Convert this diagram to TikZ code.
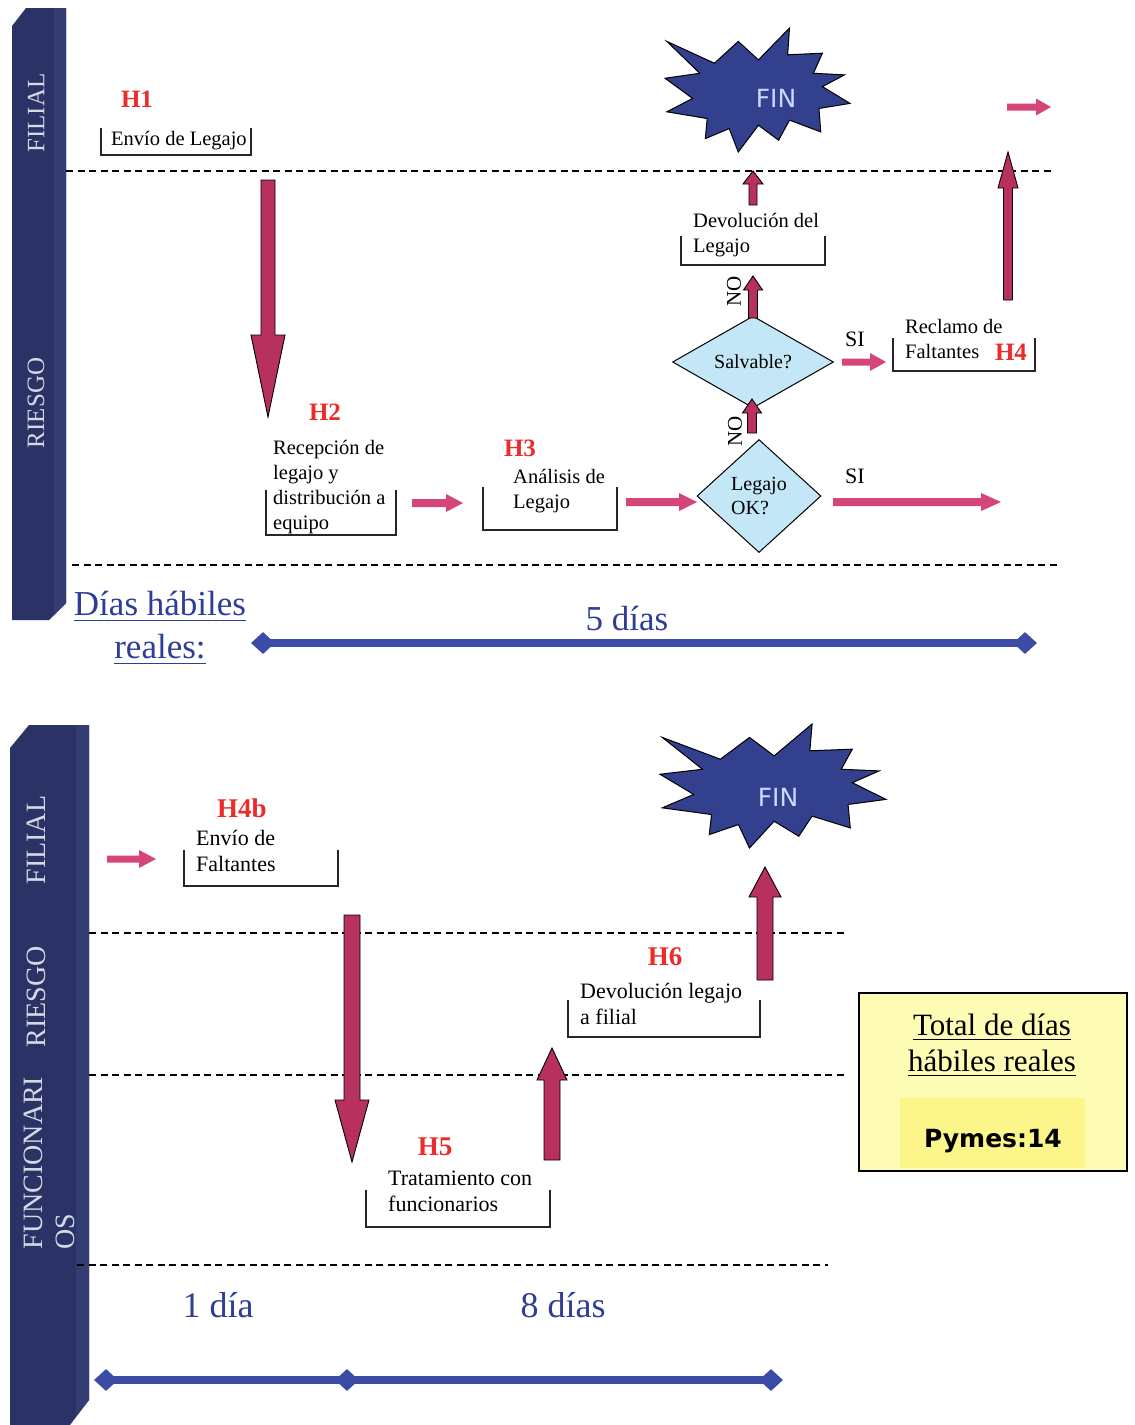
\documentclass[tikz,border=0pt]{standalone}
\usepackage{fontspec}
\setmainfont{Liberation Serif}
\newfontfamily\dejavu{DejaVu Sans}
\newcommand\uln[1]{\leavevmode\setbox0=\hbox{#1}\rlap{\rule[-0.16em]{\wd0}{0.05em}}\box0}
\usetikzlibrary{calc,shapes.geometric}
\definecolor{navy}{HTML}{2B3266}
\definecolor{navyside}{HTML}{343D73}
\definecolor{lanetxt}{HTML}{D5D9E6}
\definecolor{hred}{HTML}{EC2B2B}
\definecolor{crim}{HTML}{B8305E}
\definecolor{pinkc}{HTML}{D6457A}
\definecolor{dblue}{HTML}{2E3D96}
\definecolor{tlblue}{HTML}{3B4CA6}
\definecolor{dia}{HTML}{C3E7F7}
\definecolor{finblue}{HTML}{33408E}
\definecolor{fintxtc}{HTML}{C9D9FF}
\definecolor{ybox}{HTML}{FDFBB4}
\definecolor{yin}{HTML}{FBF58A}
% block arrow: [style]{from}{to}{shaft half width}{head half width}{head length}
\newcommand\blk[6][]{%
  \path[#1] let \p1=(#2), \p2=(#3), \n1={atan2(\y2-\y1,\x2-\x1)},
     \n2={veclen(\x2-\x1,\y2-\y1)-#6} in
   ($(\p1)+(\n1+90:#4pt)$) -- ($(\p1)+(\n1:\n2)+(\n1+90:#4pt)$) --
   ($(\p1)+(\n1:\n2)+(\n1+90:#5pt)$) -- (\p2) --
   ($(\p1)+(\n1:\n2)+(\n1-90:#5pt)$) -- ($(\p1)+(\n1:\n2)+(\n1-90:#4pt)$) --
   ($(\p1)+(\n1-90:#4pt)$) -- cycle;}
% starburst: {x0}{y0}{w}{h}
\newcommand\finpoly[4]{%
  \begin{scope}[shift={(#1,#2)}, x=#3pt, y=-#4pt]
  \draw[fin] (0.01,0.108) -- (0.267,0.284) -- (0.396,0.108) -- (0.505,0.257) --
   (0.673,0) -- (0.663,0.216) -- (0.851,0.203) -- (0.802,0.365) -- (0.970,0.378) --
   (0.851,0.473) -- (1,0.608) -- (0.832,0.649) -- (0.842,0.838) -- (0.673,0.743) --
   (0.614,0.905) -- (0.505,0.784) -- (0.396,1) -- (0.347,0.811) -- (0.218,0.892) --
   (0.228,0.730) -- (0.01,0.676) -- (0.149,0.568) -- (0,0.405) -- (0.188,0.365) -- cycle;
  \end{scope}}
\begin{document}
\begin{tikzpicture}[x=1pt,y=-1pt,
  every node/.style={inner sep=0pt},
  lanelab/.style={text=lanetxt, rotate=90, font=\fontsize{25}{25}\selectfont},
  lanelabB/.style={text=lanetxt, rotate=90, font=\fontsize{28}{32}\selectfont},
  txtA/.style={anchor=north west, align=left, font=\fontsize{20.5}{25}\selectfont},
  txtB/.style={anchor=north west, align=left, font=\fontsize{22}{26}\selectfont},
  hA/.style={text=hred, font=\bfseries\fontsize{25}{25}\selectfont},
  hB/.style={text=hred, font=\bfseries\fontsize{27}{27}\selectfont},
  brk/.style={draw=black!85, line width=1.1pt},
  dline/.style={draw=black, line width=1.1pt, dash pattern=on 7pt off 4.5pt},
  dec/.style={diamond, draw=black, line width=1pt, fill=dia, font=\fontsize{20}{24}\selectfont, align=left},
  crimar/.style={fill=crim, draw=black, line width=0.9pt},
  pinkar/.style={fill=pinkc},
  tl/.style={draw=tlblue, line width=8pt},
  tdia/.style={diamond, fill=tlblue, minimum width=24pt, minimum height=22pt},
  days/.style={text=dblue, font=\fontsize{35}{43}\selectfont},
  fintxt/.style={text=fintxtc, font=\dejavu\fontsize{25}{25}\selectfont},
  fin/.style={fill=finblue, draw=black, line width=1pt, line join=miter},
  lbl/.style={font=\fontsize{21}{21}\selectfont}
]
\useasboundingbox (0,0) rectangle (1135,1425);
\fill[white] (0,0) rectangle (1135,1425);

% ---------- lane bars ----------
\fill[navy] (12,26) -- (26,8) -- (66,8) -- (66,603) -- (49,620) -- (12,620) -- cycle;
\fill[navyside] (54,8) -- (66,8) -- (66,603) -- (54,615) -- cycle;
\node[lanelab] (lf1) at (36,113) {FILIAL};
\node[lanelab] (lr1) at (36,403) {RIESGO};

\fill[navy] (10,748) -- (29,725) -- (89,725) -- (89,1400) -- (70,1425) -- (10,1425) -- cycle;
\fill[navyside] (76,725) -- (89,725) -- (89,1400) -- (76,1416) -- cycle;
\node[lanelabB] (lf2) at (36,840) {FILIAL};
\node[lanelabB] (lr2) at (36,997) {RIESGO};
\node[lanelabB, align=left] (lfu) at (49,1163) {FUNCIONARI\\OS};

% ---------- dashed lane separators ----------
\draw[dline] (66,171) -- (1052,171);
\draw[dline] (72,565) -- (1060,565);
\draw[dline] (89,933) -- (848,933);
\draw[dline] (89,1075) -- (848,1075);
\draw[dline] (77,1265) -- (828,1265);

% ---------- top section ----------
\finpoly{665}{28}{185}{124}
\node[fintxt] (fin1) at (776,98) {FIN};

\node[hA] (h1) at (137,99) {H1};
\node[txtA] (tenv) at (111,131) {Envío de Legajo};
\draw[brk] (101,128) |- (251,155) -- (251,128);

\node[hA] (h2) at (325,412) {H2};
\node[txtA] (trec) at (273,440) {Recepción de\\legajo y\\distribución a\\equipo};
\draw[brk] (266,490) |- (396,535) -- (396,490);

\node[hA] (h3) at (520,448) {H3};
\node[txtA] (tana) at (513,469) {Análisis de\\Legajo};
\draw[brk] (483,487) |- (617,530) -- (617,487);

\node[dec, minimum width=124pt, minimum height=113pt] (leg) at (759,496) {Legajo\\OK?};
\node[dec, minimum width=161pt, minimum height=70pt] (salv) at (753,362) {Salvable?};

\node[txtA] (tdev) at (693,213) {Devolución del\\Legajo};
\draw[brk] (681,236) |- (825,265) -- (825,236);

\node[txtA] (trcl) at (905,319) {Reclamo de\\Faltantes};
\node[hA] (h4) at (1011,352) {H4};
\draw[brk] (893,338) |- (1035,371) -- (1035,338);

\node[lbl, rotate=90] (no1) at (734,291) {NO};
\node[lbl, rotate=90] (no2) at (735,431) {NO};
\node[font=\fontsize{22}{22}\selectfont] (si1) at (855,339) {SI};
\node[font=\fontsize{22}{22}\selectfont] (si2) at (855,476) {SI};

% arrow end points
\coordinate (a1s) at (268,180);  \coordinate (a1e) at (268,417);
\coordinate (a2s) at (753,205);  \coordinate (a2e) at (753,171);
\coordinate (a3s) at (753,318);  \coordinate (a3e) at (753,276);
\coordinate (a4s) at (752,433);  \coordinate (a4e) at (752,399);
\coordinate (a5s) at (1008,300); \coordinate (a5e) at (1008,152);
\coordinate (p1s) at (412,503);  \coordinate (p1e) at (463,503);
\coordinate (p2s) at (626,502);  \coordinate (p2e) at (697,502);
\coordinate (p3s) at (833,502);  \coordinate (p3e) at (1001,502);
\coordinate (p4s) at (842,362);  \coordinate (p4e) at (886,362);
\coordinate (p5s) at (1007,107); \coordinate (p5e) at (1051,107);

\blk[crimar]{a1s}{a1e}{7}{17}{82}
\blk[crimar]{a2s}{a2e}{4}{10}{13}
\blk[crimar]{a3s}{a3e}{4.5}{9.5}{14}
\blk[crimar]{a4s}{a4e}{4.5}{9.5}{14}
\blk[crimar]{a5s}{a5e}{4.5}{10}{36}
\blk[pinkar]{p1s}{p1e}{4}{9}{17}
\blk[pinkar]{p2s}{p2e}{4}{9}{18}
\blk[pinkar]{p3s}{p3e}{4}{9}{20}
\blk[pinkar]{p4s}{p4e}{3.5}{9}{16}
\blk[pinkar]{p5s}{p5e}{3.5}{8.5}{15}

% timeline top
\node[days, align=center] (dh) at (160,628) {\uln{Días hábiles}\\\uln{reales:}};
\node[days] (d5) at (627,618) {5 días};
\node[tdia] (t1a) at (263,643) {};
\node[tdia] (t1b) at (1025,643) {};
\draw[tl] (t1a.center) -- (t1b.center);

% ---------- bottom section ----------
\finpoly{660}{724}{226}{124}
\node[fintxt] (fin2) at (778,797) {FIN};

\node[hB] (h4b) at (242,808) {H4b};
\node[txtB] (tenvf) at (196,830) {Envío de\\Faltantes};
\draw[brk] (184,850) |- (338,886) -- (338,850);

\node[hB] (h6) at (665,957) {H6};
\node[txtB] (tdevl) at (580,983) {Devolución legajo\\a filial};
\draw[brk] (568,1000) |- (760,1037) -- (760,1000);

\node[hB] (h5) at (435,1147) {H5};
\node[txtB] (ttrat) at (388,1171) {Tratamiento con\\funcionarios};
\draw[brk] (366,1190) |- (550,1227) -- (550,1190);

\coordinate (p6s) at (107,859);  \coordinate (p6e) at (156,859);
\coordinate (b1s) at (352,915);  \coordinate (b1e) at (352,1162);
\coordinate (b2s) at (552,1160); \coordinate (b2e) at (552,1048);
\coordinate (b3s) at (765,980);  \coordinate (b3e) at (765,867);
\blk[pinkar]{p6s}{p6e}{3.5}{9}{17}
\blk[crimar]{b1s}{b1e}{8}{17}{62}
\blk[crimar]{b2s}{b2e}{8}{15}{32}
\blk[crimar]{b3s}{b3e}{8}{16}{30}

% total box
\node[draw=black, line width=1.2pt, fill=ybox, minimum width=268pt, minimum height=178pt] (tot) at (993,1082) {};
\node[fill=yin, minimum width=185pt, minimum height=70pt] (pymbg) at (992,1133) {};
\node[font=\fontsize{31}{36}\selectfont, align=center] (tottxt) at (992,1045) {\uln{Total de días}\\\uln{hábiles reales}};
\node[font=\dejavu\bfseries\fontsize{25}{25}\selectfont] (pym) at (993,1141) {Pymes:14};

% timeline bottom
\node[days, font=\fontsize{36}{40}\selectfont] (d1) at (218,1305) {1 día};
\node[days, font=\fontsize{36}{40}\selectfont] (d8) at (563,1305) {8 días};
\node[tdia] (t2a) at (106,1380) {};
\node[tdia] (t2b) at (347,1380) {};
\node[tdia] (t2c) at (771,1380) {};
\draw[tl] (t2a.center) -- (t2b.center);
\draw[tl] (t2b.center) -- (t2c.center);
\end{tikzpicture}
\end{document}
